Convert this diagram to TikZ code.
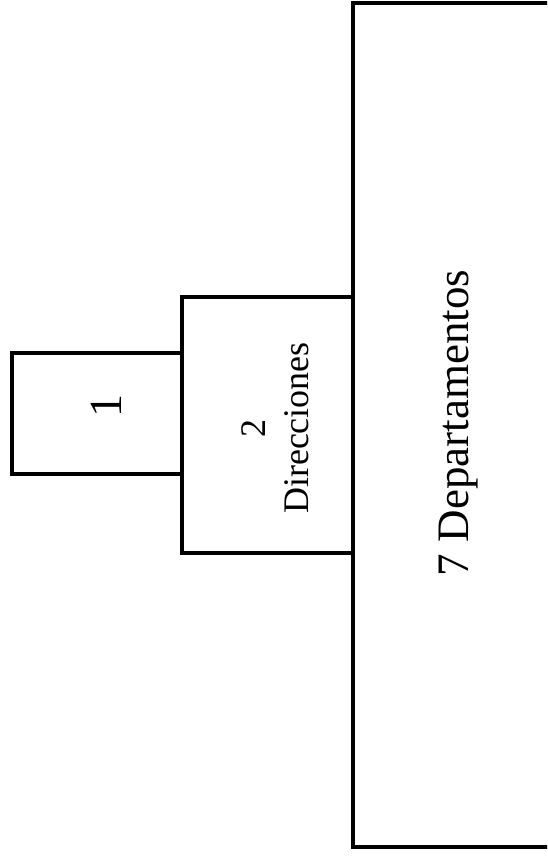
\documentclass[tikz,border=0pt]{standalone}
\usepackage{fontspec}
\setmainfont{Liberation Serif}
\usepackage{tikz}
\usetikzlibrary{positioning}

\begin{document}
\begin{tikzpicture}[
    x=1pt, y=-1pt,
    % box of the chart
    caja/.style={
        rectangle, draw=black, line width=3.4pt, inner sep=0pt
    },
    % text runs bottom to top
    rotulo/.style={rotate=90, align=center, inner sep=0pt},
    txtUno/.style={font=\fontsize{46}{50}\selectfont},
    txtDir/.style={font=\fontsize{36}{43}\selectfont},
    txtDep/.style={font=\fontsize{45}{50}\selectfont}
]
\path[use as bounding box, clip] (0,0) rectangle (547,862);
% -- Departamentos (right, cut by the page edge) --
\node[caja, minimum width=216pt, minimum height=844pt]
    (depto) at (461, 425) {};
\node[rotulo, txtDep] (deptoTxt) at (459, 423) {7 Departamentos};
% -- Direcciones (middle) --
\node[caja, minimum width=171pt, minimum height=256pt]
    (direc) at (267.5, 425) {};
\node[rotulo, txtDir] (direcTxt) at (275.5, 428) {2\\Direcciones};
% -- top level (left) --
\node[caja, minimum width=170pt, minimum height=121pt]
    (uno) at (97, 413.5) {};
\node[rotulo, txtUno] (unoTxt) at (106, 406) {1};
\end{tikzpicture}
\end{document}
